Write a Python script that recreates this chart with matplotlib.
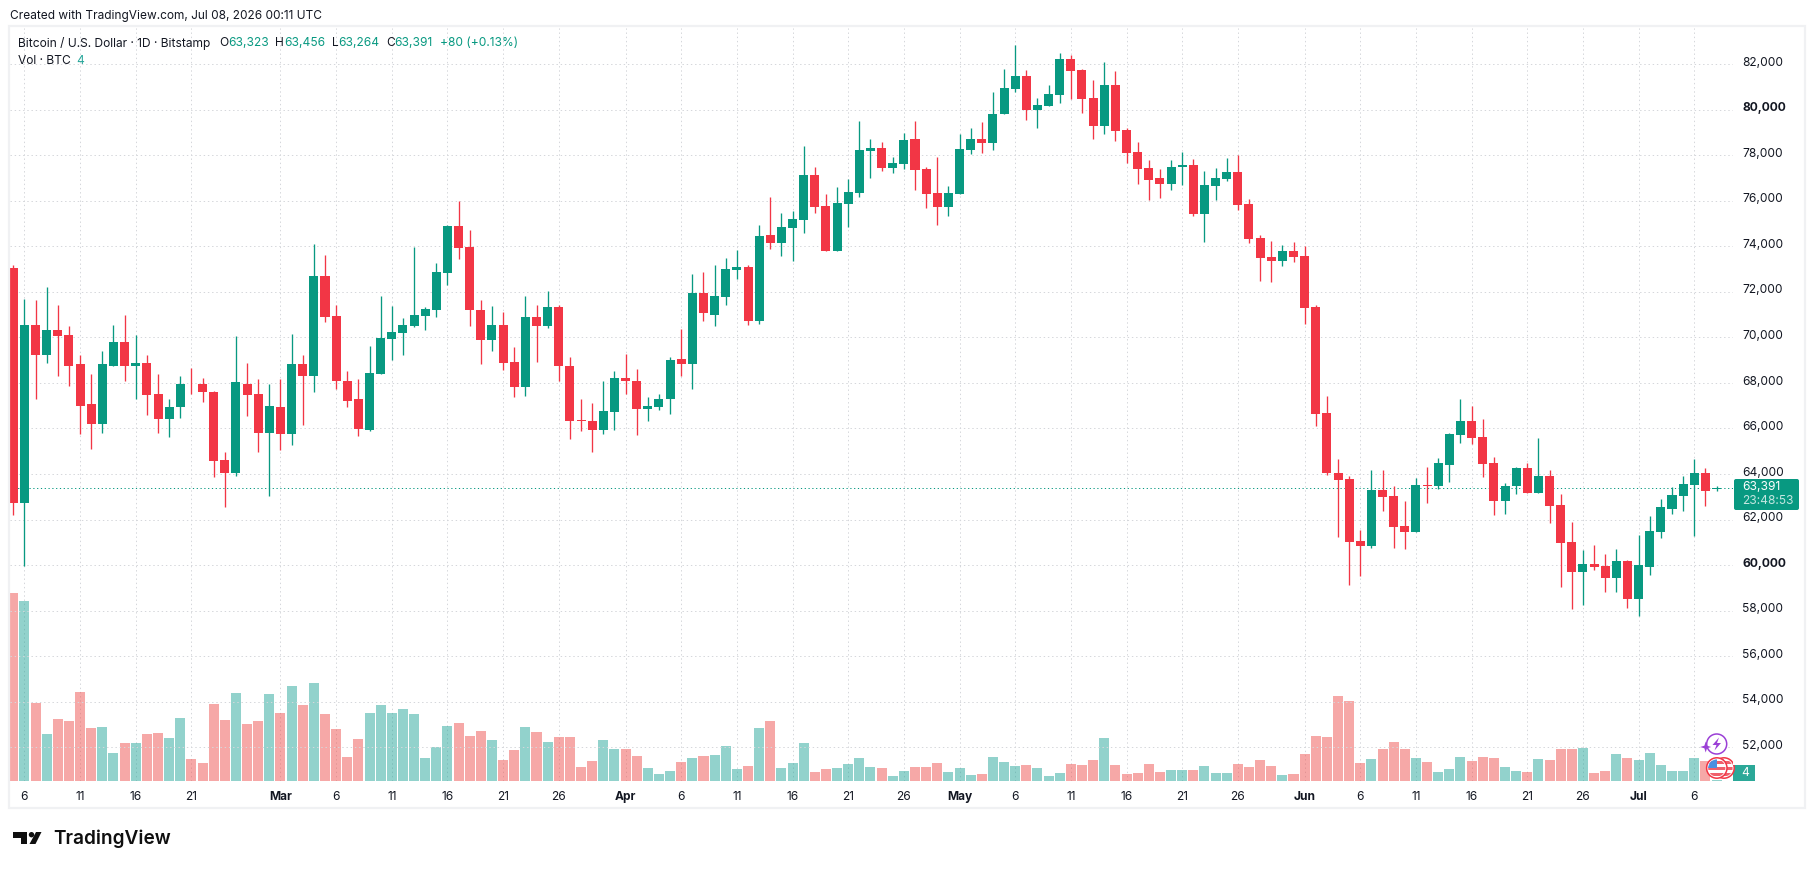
import matplotlib
matplotlib.use("Agg")
import matplotlib.pyplot as plt
from matplotlib.patches import Circle, FancyBboxPatch, Polygon, Rectangle
from matplotlib.transforms import ScaledTranslation

plt.rcParams['font.family'] = ['Inter', 'DejaVu Sans']

# daily BTC/USD candles, one entry per day starting Feb 5
opens = [73050, 62740, 70540, 69220, 70320, 70100, 68810, 67050, 66190, 68760,
         69800, 68760, 68850, 67500, 66410, 66920, 67970, 67970, 67590, 64630,
         64020, 67970, 67500, 65820, 66960, 65740, 68810, 68280, 72700, 70940,
         68100, 67270, 65930, 68410, 69930, 70190, 70500, 70940, 71210, 72810,
         74890, 73970, 71220, 69880, 70540, 68920, 67800, 70890, 70500, 71310,
         68760, 66370, 66320, 65930, 66720, 68230, 68100, 66850, 66940, 67270,
         69050, 68830, 71930, 71000, 71750, 72960, 73090, 70720, 74500, 74150,
         74810, 75160, 77140, 75750, 73800, 75850, 76340, 78190, 78320, 77440,
         77620, 78720, 77390, 76320, 75710, 76280, 78230, 78720, 78540, 79810,
         80920, 81490, 79970, 80170, 80650, 82240, 81750, 80520, 79290, 81090,
         79110, 78150, 77440, 76980, 76720, 77480, 77570, 75400, 76630, 76940,
         77250, 75840, 74370, 73530, 73360, 73800, 73580, 71340, 66690, 64060,
         63800, 61050, 60830, 63310, 63050, 61700, 61440, 63530, 63490, 64390,
         65700, 66320, 65620, 64460, 62830, 63450, 64240, 63180, 63930, 62650,
         61000, 59710, 60060, 59970, 59440, 60190, 58520, 59930, 61440, 62470,
         63050, 63530, 64020, 63323]
highs = [73180, 71660, 71620, 72190, 71400, 70500, 69220, 68370, 69420, 70540,
         70980, 70100, 69220, 68410, 67270, 68280, 68670, 68230, 67630, 64980,
         70060, 68850, 68180, 67960, 68180, 70150, 69220, 74100, 73620, 71400,
         68540, 68180, 69620, 71810, 71390, 70850, 73970, 71340, 73270, 74940,
         76000, 74720, 71620, 71360, 71110, 69580, 71800, 71400, 72020, 71400,
         69140, 67300, 67120, 68100, 68500, 69280, 68630, 67360, 67530, 69140,
         70370, 72760, 72850, 73180, 73490, 73840, 73180, 74940, 76150, 75470,
         75550, 78410, 77490, 76280, 76590, 76960, 79500, 78720, 78590, 77930,
         78990, 79500, 77480, 77930, 76630, 78940, 79210, 79470, 80770, 81800,
         82850, 81750, 80520, 81090, 82500, 82410, 81800, 81310, 82100, 81710,
         79200, 78590, 77800, 77390, 77800, 78150, 77840, 77290, 77420, 77880,
         78000, 76060, 74500, 74230, 74060, 74190, 74020, 71400, 67420, 64670,
         63930, 61530, 64190, 64190, 63490, 62800, 63840, 64320, 64720, 65800,
         67290, 66980, 66410, 64760, 63620, 64320, 64500, 65580, 64190, 63140,
         61880, 60670, 60900, 60500, 60720, 60240, 61330, 62150, 62890, 63440,
         63930, 64670, 64280, 63456]
lows = [62210, 59950, 67310, 68850, 68280, 67880, 65760, 65090, 65820, 68720,
        68060, 67270, 66590, 65820, 65620, 66440, 67530, 67180, 63880, 62540,
        63930, 66540, 64950, 63050, 65030, 65270, 66150, 67580, 70670, 67750,
        66960, 65660, 65880, 68400, 69000, 69220, 70450, 70320, 70890, 72300,
        73440, 70500, 68830, 69400, 68560, 67360, 67440, 68920, 70410, 68100,
        65530, 65880, 64960, 65750, 65930, 67530, 65710, 66320, 66810, 66630,
        68320, 67710, 70700, 70500, 71440, 72540, 70540, 70590, 73880, 73580,
        73360, 74590, 75470, 73800, 73800, 74850, 76150, 76980, 77300, 77220,
        77400, 76450, 75660, 74920, 75310, 76280, 78060, 78100, 78230, 79810,
        80780, 79530, 79200, 80170, 80300, 80480, 79860, 78720, 78940, 78630,
        77650, 76720, 76020, 76100, 76450, 76670, 75310, 74200, 76020, 76850,
        75580, 74120, 72470, 72430, 73110, 73310, 70590, 66100, 63970, 61230,
        59140, 59530, 60740, 62370, 60740, 60700, 61440, 62740, 63360, 63650,
        65360, 65310, 63860, 62180, 62260, 63140, 63180, 63180, 61860, 59050,
        58060, 58240, 59800, 58830, 58830, 58100, 57780, 59580, 61180, 62250,
        62380, 61290, 62600, 63264]
closes = [62740, 70540, 69220, 70320, 70060, 68760, 67000, 66190, 68810, 69800,
          68760, 68850, 67460, 66410, 66960, 67970, 67930, 67580, 64590, 64020,
          68020, 67460, 65820, 67000, 65740, 68810, 68280, 72700, 70890, 68060,
          67220, 65970, 68450, 69970, 70230, 70540, 70980, 71250, 72870, 74890,
          73930, 71220, 69880, 70540, 68870, 67800, 70890, 70500, 71310, 68720,
          66320, 66320, 65930, 66760, 68230, 68060, 66850, 66980, 67270, 69000,
          68830, 71930, 71050, 71800, 73000, 73090, 70720, 74450, 74150, 74850,
          75200, 77140, 75710, 73800, 75880, 76370, 78230, 78320, 77440, 77660,
          78680, 77360, 76280, 75710, 76320, 78280, 78720, 78540, 79810, 80960,
          81490, 79970, 80190, 80700, 82240, 81700, 80480, 79290, 81090, 79070,
          78100, 77400, 76910, 76720, 77480, 77570, 75400, 76670, 76980, 77250,
          75800, 74300, 73490, 73360, 73800, 73530, 71290, 66640, 64020, 63750,
          61000, 60830, 63310, 63000, 61660, 61440, 63530, 63490, 64460, 65750,
          66320, 65580, 64440, 62830, 63490, 64240, 63180, 63930, 62610, 60960,
          59710, 60060, 59930, 59440, 60190, 58520, 60020, 61490, 62540, 63090,
          63580, 64020, 63270, 63391]
# traded volume in BTC for the same days
volumes = [752, 720, 312, 188, 248, 240, 356, 212, 216, 112,
           152, 152, 188, 192, 172, 252, 88, 72, 308, 244,
           352, 228, 240, 348, 272, 380, 304, 392, 268, 208,
           96, 168, 272, 304, 272, 288, 268, 92, 136, 220,
           232, 180, 200, 164, 84, 124, 216, 196, 156, 176,
           176, 56, 80, 164, 128, 128, 100, 52, 28, 40,
           76, 92, 100, 104, 140, 48, 60, 212, 240, 52,
           72, 152, 36, 48, 52, 68, 92, 56, 52, 20,
           40, 56, 56, 72, 36, 52, 24, 28, 96, 76,
           60, 64, 52, 20, 32, 68, 64, 84, 172, 64,
           28, 32, 68, 36, 44, 44, 44, 60, 32, 32,
           68, 56, 84, 60, 24, 28, 108, 180, 176, 340,
           320, 72, 88, 128, 156, 128, 92, 76, 36, 48,
           96, 80, 96, 92, 56, 40, 36, 88, 84, 128,
           128, 132, 32, 40, 108, 92, 84, 112, 64, 40,
           40, 92, 80, 4]

date_ticks = [1, 6, 11, 16, 24, 29, 34, 39, 44, 49, 55, 60, 65, 70, 75, 80, 85, 90,
              95, 100, 105, 110, 116, 121, 126, 131, 136, 141, 146, 151]
date_labels = ['6', '11', '16', '21', 'Mar', '6', '11', '16', '21', '26', 'Apr', '6',
               '11', '16', '21', '26', 'May', '6', '11', '16', '21', '26', 'Jun', '6',
               '11', '16', '21', '26', 'Jul', '6']
month_labels = ['Mar', 'Apr', 'May', 'Jun', 'Jul']
price_ticks = list(range(52000, 84000, 2000))
bold_prices = [60000, 80000]
last_price = 63391

W, H = 1815, 869
UP, DOWN = '#089981', '#F23645'
TEXT = '#131722'
GRID = '#d5d7db'

fig = plt.figure(figsize=(W / 100, H / 100), dpi=100, facecolor='white')

# volume pane sits at the bottom of the same plot area as the price
ax_vol = fig.add_axes([10 / W, 1 - 781 / H, 1723 / W, 753.5 / H])
ax_price = ax_vol.twinx()
days = list(range(len(opens)))
rising = [c >= o for o, c in zip(opens, closes)]

vol_colors = ['#26a69a' if r else '#ef5350' for r in rising]
ax_vol.bar(days, volumes, width=0.9, color=vol_colors, alpha=0.5, linewidth=0, zorder=2)
ax_vol.set_xlim(-0.296, 154.48)
ax_vol.set_ylim(0, 3014)
ax_vol.set_yticks([])
ax_vol.set_xticks(date_ticks, date_labels)
ax_vol.tick_params(axis='x', length=0, pad=7, labelsize=8.64, labelcolor=TEXT)
for lab in ax_vol.get_xticklabels():
    if lab.get_text() in month_labels:
        lab.set_fontweight('bold')
ax_vol.grid(axis='x', color=GRID, lw=0.72, ls=(0, (1.4, 2.8)), zorder=0)
ax_vol.set_axisbelow(True)

# wicks then bodies
candle_colors = [UP if r else DOWN for r in rising]
ax_price.vlines(days, lows, highs, colors=candle_colors, lw=0.95, zorder=3)
body_bottom = [min(o, c) for o, c in zip(opens, closes)]
body_height = [abs(c - o) for o, c in zip(opens, closes)]
ax_price.bar(days, body_height, bottom=body_bottom, width=0.81, color=candle_colors,
             linewidth=0, zorder=4)
ax_price.set_ylim(50518, 83603)
ax_price.set_yticks(price_ticks, [f'{p:,}' for p in price_ticks])
ax_price.tick_params(axis='y', length=0, pad=6.5, labelsize=8.64, labelcolor=TEXT)
# price labels sit a little above their gridlines
label_lift = ScaledTranslation(0, 0.028, fig.dpi_scale_trans)
for lab, p in zip(ax_price.get_yticklabels(), price_ticks):
    lab.set_transform(lab.get_transform() + label_lift)
    if p in bold_prices:
        lab.set_fontweight('bold')
ax_price.grid(axis='y', color=GRID, lw=0.72, ls=(0, (1.4, 2.8)), zorder=0)
ax_price.set_axisbelow(True)
ax_price.axhline(last_price, color=UP, lw=0.72, ls=(0, (1.2, 2.6)), zorder=2.5)

for ax in (ax_vol, ax_price):
    for spine in ax.spines.values():
        spine.set_visible(False)

# page furniture is placed in pixel units on a full-figure overlay
page = fig.add_axes([0, 0, 1, 1], zorder=10)
page.set_xlim(0, W)
page.set_ylim(H, 0)
page.axis('off')
page.add_patch(Rectangle((9.2, 26.2), 1796, 782, fill=False, ec='#f0f1f3', lw=1.6))

page.text(10, 16.5, 'Created with TradingView.com, Jul 08, 2026 00:11 UTC', fontsize=8.56,
          color=TEXT, va='center')

legend_parts = [(18.2, 'Bitcoin / U.S. Dollar · 1D · Bitstamp', TEXT),
                (219, 'O', TEXT), (228.5, '63,323', UP),
                (275.5, 'H', TEXT), (284.6, '63,456', UP),
                (332, 'L', TEXT), (338.3, '63,264', UP),
                (385.8, 'C', TEXT), (394.5, '63,391', UP),
                (440, '+80 (+0.13%)', UP)]
for x, s, c in legend_parts:
    page.text(x, 43.5, s, fontsize=8.64, color=c, va='center')
page.text(18.2, 60.8, 'Vol · BTC', fontsize=8.64, color=TEXT, va='center')
page.text(76.7, 60.8, '4', fontsize=8.64, color='#26a69a', va='center')

# last price tag with countdown
page.add_patch(FancyBboxPatch((1736, 481), 61, 27, boxstyle='round,pad=2,rounding_size=2',
                              fc=UP, ec='none'))
page.text(1742, 486.7, '63,391', fontsize=8.64, color='white', va='center')
page.text(1742, 500.7, '23:48:53', fontsize=8.64, color='#c3e6e0', va='center')

# volume tag
page.add_patch(Rectangle((1733, 765), 22, 16, fc='#2ba898', ec='none'))
page.text(1745.5, 773.5, '4', fontsize=8.64, color='white', va='center', ha='center')

# news and event markers near the last bar
PURPLE = '#9b3fd6'
page.add_patch(Circle((1716.7, 744), 10, fc='white', ec=PURPLE, lw=1.1))
page.add_patch(Polygon([(1719, 737.5), (1712.5, 745), (1716.5, 745), (1714.5, 750.5),
                        (1721, 743), (1717, 743)], fc=PURPLE, ec='none'))
page.add_patch(Polygon([(1705.7, 741.5), (1707, 745.7), (1711.2, 747), (1707, 748.3),
                        (1705.7, 752.5), (1704.4, 748.3), (1700.2, 747), (1704.4, 745.7)],
                       fc=PURPLE, ec='none'))
for cx in (1724, 1716.8):
    disc = Circle((cx, 768), 10.2, fc='white', ec=DOWN, lw=1.1)
    page.add_patch(disc)
    for y, h in ((761, 3), (767, 3), (773, 3)):
        stripe = page.add_patch(Rectangle((cx - 9, y), 18, h, fc='#f0606c', ec='none'))
        stripe.set_clip_path(Circle((cx, 768), 8.6, transform=page.transData))
    canton = page.add_patch(Rectangle((cx - 9, 759), 9.5, 8.5, fc='#4a90e2', ec='none'))
    canton.set_clip_path(Circle((cx, 768), 8.6, transform=page.transData))
page.add_patch(Rectangle((1733, 755), 22, 10, fc='white', ec='none'))

# wordmark
page.add_patch(Polygon([(13, 832), (27.5, 832), (27.5, 844), (21, 844), (21, 838), (13, 838)],
                       fc='#0f0f0f', ec='none'))
page.add_patch(Circle((31.5, 834.7), 2.7, fc='#0f0f0f', ec='none'))
page.add_patch(Polygon([(36, 832), (41.5, 832), (35.5, 844), (29.5, 844)], fc='#0f0f0f', ec='none'))
page.text(53, 844, 'TradingView', fontsize=13.7, fontweight='semibold', color='#0f0f0f',
          va='baseline')

fig.savefig('out.png', dpi=100)
